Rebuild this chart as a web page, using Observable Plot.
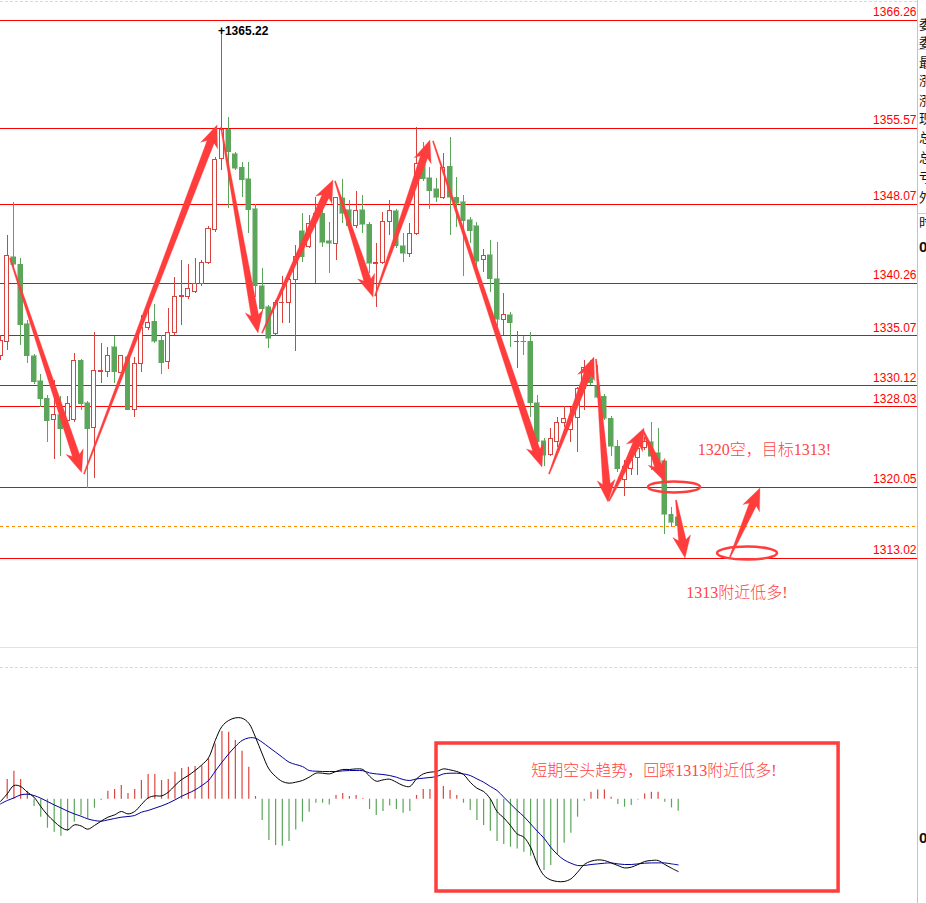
<!DOCTYPE html>
<html><head><meta charset="utf-8">
<script src="https://cdn.jsdelivr.net/npm/d3@7"></script>
<script src="https://cdn.jsdelivr.net/npm/@observablehq/plot@0.6"></script>
<style>
body{margin:0;background:#fff;overflow:hidden}
#wrap{position:relative;width:926px;height:903px;overflow:hidden;background:#fff}
#wrap svg{display:block}
.abs{position:absolute}
.side{position:absolute;left:919px;font:13px "Noto Sans CJK SC";color:#111;line-height:14px;white-space:nowrap}
</style></head><body><div id="wrap"></div><script>
// ---------- candle data (index 0..101) ----------
const opens = [1333.01,1334.49,1342.81,1342.11,1336.18,1333.01,1330.54,1328.85,1326.68,1327.17,
1326.58,1326.68,1332.61,1328.36,1325.89,1331.43,1331.43,1333.90,1331.33,1332.91,
1327.67,1332.22,1335.78,1336.47,1334.59,1332.42,1335.29,1338.85,1338.85,1339.44,
1340.14,1342.31,1345.48,1352.51,1355.47,1353.00,1351.71,1350.53,1347.56,1339.94,
1337.86,1335.19,1338.26,1338.35,1340.53,1345.38,1343.80,1346.37,1347.16,1344.39,
1344.19,1348.65,1347.46,1345.88,1347.46,1346.07,1342.21,1342.31,1346.27,1347.36,
1343.90,1343.20,1345.18,1352.31,1350.63,1349.54,1348.74,1351.81,1348.74,1348.25,
1346.47,1345.88,1342.51,1343.01,1340.63,1336.67,1337.07,1334.40,1334.49,1334.49,
1328.36,1324.60,1323.31,1324.50,1326.38,1325.69,1326.97,1329.75,1331.92,1330.04,
1329.05,1326.87,1324.10,1320.74,1321.83,1323.01,1323.91,1324.50,1323.41,1322.62,
1317.37,1317.08];
const highs = [1335.09,1344.98,1348.25,1342.71,1336.57,1333.21,1331.23,1329.15,1330.64,1329.05,
1329.05,1333.31,1332.71,1328.56,1335.39,1334.30,1333.90,1334.99,1333.11,1333.11,
1332.91,1337.07,1337.76,1338.16,1335.09,1337.76,1340.83,1342.51,1342.11,1342.71,
1342.51,1345.88,1352.70,1365.22,1356.66,1353.20,1352.21,1352.21,1348.05,1341.72,
1338.06,1338.55,1340.93,1341.22,1343.99,1347.16,1346.96,1348.74,1348.15,1346.27,
1348.74,1350.53,1348.45,1349.34,1348.94,1346.27,1344.19,1347.26,1348.45,1347.56,
1345.18,1346.17,1355.67,1354.19,1351.71,1350.63,1353.10,1354.68,1350.72,1348.94,
1346.77,1346.27,1343.60,1344.49,1344.29,1339.24,1337.36,1335.48,1334.99,1335.39,
1329.15,1324.90,1325.89,1326.97,1328.06,1327.96,1329.94,1332.61,1332.61,1332.12,
1329.25,1327.07,1324.70,1322.72,1323.41,1324.40,1324.99,1326.48,1325.89,1322.72,
1318.07,1317.77];
const lows = [1332.61,1333.60,1341.72,1334.10,1332.32,1330.24,1327.96,1324.50,1322.82,1323.11,
1326.38,1326.48,1327.67,1319.95,1320.94,1330.34,1330.93,1330.34,1330.64,1327.67,
1326.97,1331.43,1335.58,1334.30,1331.23,1331.72,1335.09,1336.08,1338.65,1339.24,
1339.94,1342.11,1345.28,1351.42,1347.66,1351.42,1348.74,1345.18,1338.85,1337.46,
1333.80,1334.99,1336.28,1336.28,1333.51,1342.31,1343.70,1340.23,1343.80,1341.22,
1342.51,1346.17,1345.68,1345.68,1345.18,1341.22,1337.86,1342.11,1344.98,1343.70,
1342.31,1342.81,1344.98,1350.33,1347.56,1348.25,1348.55,1344.98,1345.78,1340.93,
1344.19,1341.72,1341.32,1339.34,1335.98,1335.09,1333.90,1331.82,1333.11,1326.97,
1324.00,1322.12,1323.11,1324.00,1325.98,1324.50,1323.51,1327.67,1330.14,1328.85,
1326.68,1323.11,1321.53,1319.16,1321.23,1321.23,1323.71,1321.73,1321.43,1315.40,
1316.09,1315.79];
const closes = [1334.59,1342.91,1342.11,1336.08,1333.01,1330.44,1328.76,1326.58,1327.17,1325.79,
1328.26,1332.61,1328.26,1325.79,1331.53,1331.53,1333.01,1331.43,1333.01,1327.67,
1332.22,1335.78,1336.28,1334.49,1332.32,1335.29,1338.85,1338.95,1339.64,1340.14,
1342.31,1345.58,1352.41,1355.47,1353.20,1351.61,1350.43,1347.46,1339.94,1337.66,
1334.79,1338.35,1338.35,1340.53,1342.81,1342.81,1346.17,1347.16,1344.29,1344.19,
1348.65,1347.16,1345.88,1347.36,1346.07,1342.21,1342.31,1346.27,1347.36,1343.90,
1343.20,1345.18,1352.01,1350.53,1349.34,1348.74,1351.71,1348.74,1348.15,1346.37,
1345.38,1342.41,1342.91,1340.63,1336.67,1337.07,1336.28,1334.49,1334.40,1328.36,
1324.50,1323.21,1324.80,1326.38,1326.87,1326.68,1329.75,1331.92,1330.34,1328.95,
1326.87,1324.10,1321.83,1322.12,1322.72,1323.81,1324.50,1323.11,1321.73,1317.37,
1316.58,1316.19];

// ---------- horizontal levels ----------
const levels = [1366.26,1355.57,1348.07,1340.26,1335.07,1330.12,1328.03,1320.05,1313.02];
const currentPrice = 1316.19;
const peakIndex = 33, peakLabel = "+1365.22";

// ---------- MACD (histogram, DIF, DEA) ----------
const macdHist = [null,1.97,2.80,1.97,0.80,-0.73,-1.80,-2.90,-3.30,-3.70,
-3.20,-2.30,-1.63,-1.97,-0.90,-0.13,0.80,0.97,1.37,0.57,
0.97,1.87,2.47,2.47,1.87,1.97,2.70,3.07,3.20,3.27,
3.33,4.03,5.53,6.77,6.70,5.87,4.80,3.20,0.27,-2.13,
-4.13,-4.63,-4.70,-4.23,-3.07,-2.30,-1.30,-0.40,-0.40,-0.57,
0.37,0.57,0.27,0.37,0.07,-1.03,-1.63,-1.23,-0.67,-1.03,
-1.40,-1.23,0.37,0.97,0.97,1.10,1.27,0.87,0.37,-0.40,
-1.13,-2.13,-2.63,-3.20,-4.23,-4.53,-4.80,-4.97,-5.30,-5.70,
-6.63,-7.13,-6.63,-5.63,-4.40,-3.40,-1.80,-0.20,0.70,0.93,
0.93,0.20,-0.53,-0.80,-0.63,-0.07,0.53,0.70,0.70,-0.30,
-0.87,-1.20];
const macdDif = [-0.23,0.53,1.37,1.27,0.70,0.20,-0.73,-1.57,-2.23,-2.80,
-3.07,-2.57,-2.67,-3.00,-2.63,-2.20,-1.80,-1.57,-1.23,-1.47,
-1.23,-0.53,0.13,0.33,0.33,0.70,1.37,1.97,2.37,2.87,
3.43,4.13,5.87,7.27,7.87,8.13,8.10,7.60,6.20,4.53,
3.03,2.27,1.77,1.60,1.70,1.87,2.20,2.60,2.60,2.53,
2.77,2.97,2.97,3.03,2.97,2.30,1.80,1.93,2.00,1.70,
1.37,1.27,2.03,2.53,2.70,2.77,3.03,2.93,2.77,2.47,
1.70,1.10,0.77,0.03,-1.23,-1.87,-2.63,-3.47,-3.80,-4.80,
-6.47,-7.63,-8.07,-8.23,-8.23,-7.97,-7.30,-6.53,-6.20,-6.07,
-6.13,-6.37,-6.63,-6.87,-6.80,-6.53,-6.23,-6.13,-6.13,-6.53,
-6.90,-7.23];
const macdDea = [-0.47,-0.13,0.13,0.43,0.50,0.37,0.10,-0.23,-0.57,-0.87,
-1.20,-1.47,-1.70,-1.97,-2.13,-2.20,-2.07,-1.93,-1.80,-1.73,
-1.63,-1.30,-1.13,-0.90,-0.67,-0.40,-0.07,0.30,0.60,0.93,
1.37,1.87,2.80,3.70,4.53,5.27,5.87,6.13,6.10,5.70,
5.20,4.70,4.20,3.70,3.47,3.27,2.87,2.80,2.77,2.77,
2.77,2.83,2.87,2.87,2.85,2.63,2.53,2.47,2.37,2.20,
1.97,1.87,2.03,2.10,2.17,2.27,2.53,2.60,2.60,2.53,
2.37,2.03,1.70,1.27,0.87,0.20,-0.47,-1.13,-1.73,-2.47,
-3.20,-3.90,-4.80,-5.53,-6.07,-6.40,-6.63,-6.63,-6.53,-6.47,
-6.40,-6.37,-6.47,-6.53,-6.53,-6.47,-6.40,-6.37,-6.37,-6.37,
-6.47,-6.57];

// ---------- hand-drawn annotations (index, price) ----------
const arrowX1 = [1.49,12.52,32.94,39.05,49.93,55.89,64.53,81.82,88.82,90.76,95.83,100.75,108.79];
const arrowY1 = [1342.71,1321.33,1355.67,1335.29,1350.33,1338.95,1354.29,1321.33,1332.71,1318.66,1325.69,1318.76,1313.12];
const arrowX2 = [12.17,32.34,38.45,49.63,55.59,64.08,80.77,88.52,90.61,95.98,99.11,102.09,113.26];
const arrowY2 = [1321.48,1355.87,1335.29,1350.43,1338.85,1354.38,1322.03,1332.91,1318.56,1325.88,1320.54,1313.02,1319.95];
const ellipseX = [100.45,111.33];
const ellipseY = [1320.05,1313.51];
const noteTexts = ["1320空，目标1313!","1313附近低多!"];
const noteX = [103.9,102.2];
const noteY = [1323.81,1309.66];
const boxNote = "短期空头趋势，回踩1313附近低多!";
const boxX = [64.98,124.9], boxY = [5.57,-9.23];
const boxTextX = 79.1, boxTextY = 2.87;

// ---------- build tables ----------
const candles = opens.map((o,i)=>({i, o, h: highs[i], l: lows[i], c: closes[i], up: closes[i] >= o}));
const macd = macdDif.map((d,i)=>({i, hist: macdHist[i], dif: d, dea: macdDea[i]}));
const arrows = arrowX1.map((x,i)=>({x1:x, y1:arrowY1[i], x2:arrowX2[i], y2:arrowY2[i]}));
const ellipses = ellipseX.map((x,i)=>({x, y: ellipseY[i]}));
const notes = noteTexts.map((t,i)=>({t, x: noteX[i], y: noteY[i]}));

const RED = "#d8433d", GREEN = "#5ba65b", ARROW = "#ff3d3d";
const xDomain = [0, 136.66];
const serif = "'Liberation Serif','Noto Sans CJK SC',serif";

function arrowMark(data) {
  return Plot.dot(data, {x: "x1", y: "y1", r: 0, render(index, scales) {
    const g = d3.create("svg:g");
    for (const i of index) {
      const d = data[i];
      const ax = scales.x(d.x1), ay = scales.y(d.y1), bx = scales.x(d.x2), by = scales.y(d.y2);
      const dx = bx-ax, dy = by-ay, L = Math.hypot(dx,dy);
      const ux = dx/L, uy = dy/L, nx = -uy, ny = ux;
      const h = Math.min(18, L*0.4), hw = 9, w0 = 0.6, w1 = 3.8;
      const cx = bx-ux*h, cy = by-uy*h;
      const pts = [[ax+nx*w0, ay+ny*w0],[cx+nx*w1, cy+ny*w1],[cx+nx*hw-ux*4, cy+ny*hw-uy*4],[bx,by],
                   [cx-nx*hw-ux*4, cy-ny*hw-uy*4],[cx-nx*w1, cy-ny*w1],[ax-nx*w0, ay-ny*w0]];
      g.append("path").attr("d","M"+pts.map(p=>p[0].toFixed(2)+","+p[1].toFixed(2)).join("L")+"Z")
        .attr("fill", ARROW).attr("stroke", ARROW).attr("stroke-width", 0.6).attr("stroke-opacity", 0.5);
    }
    return g.node();
  }});
}
function ellipseMark(data) {
  return Plot.dot(data, {x: "x", y: "y", r: 0, render(index, scales) {
    const g = d3.create("svg:g");
    for (const i of index) {
      g.append("ellipse").attr("cx", scales.x(data[i].x)).attr("cy", scales.y(data[i].y))
        .attr("rx", i === 0 ? 26 : 30).attr("ry", i === 0 ? 5.5 : 6.5)
        .attr("fill","none").attr("stroke", ARROW).attr("stroke-width", 2.5);
    }
    return g.node();
  }});
}

const main = Plot.plot({
  width: 926, height: 647,
  marginLeft: 0, marginRight: 9, marginTop: 0, marginBottom: 0,
  style: {background: "#fff", overflow: "visible"},
  x: {domain: xDomain, axis: null},
  y: {domain: [1304.21, 1368.24], axis: null},
  marks: [
    Plot.ruleY(levels, {stroke: "#ff0000", strokeWidth: 1, shapeRendering: "crispEdges"}),
    Plot.ruleY([currentPrice], {stroke: "#ff8c00", strokeDasharray: "3,3", shapeRendering: "crispEdges"}),
    Plot.ruleX(candles, {x: "i", y1: "l", y2: "h", stroke: d => d.up ? RED : GREEN, strokeWidth: 1, shapeRendering: "crispEdges"}),
    Plot.rect(candles.filter(d=>d.up), {x1: d=>d.i-0.3, x2: d=>d.i+0.3, y1: "o", y2: "c", fill: "#fff", stroke: RED, strokeWidth: 1, shapeRendering: "crispEdges"}),
    Plot.rect(candles.filter(d=>!d.up), {x1: d=>d.i-0.37, x2: d=>d.i+0.37, y1: "o", y2: "c", fill: GREEN, stroke: GREEN, strokeWidth: 0.5, shapeRendering: "crispEdges"}),
    Plot.text(levels, {x: xDomain[1], y: d=>d, text: d=>d.toFixed(2), textAnchor: "end", dx: -1, dy: -8,
      fill: "#ff0000", fontSize: 12, fontFamily: "'Liberation Sans',Arial,sans-serif"}),
    Plot.text([peakIndex], {x: d=>d, y: d=>highs[d], text: [peakLabel], textAnchor: "start", dx: -4, dy: 0,
      fill: "#000", fontSize: 12, fontWeight: "bold", fontFamily: "'Liberation Sans',Arial,sans-serif"}),
    arrowMark(arrows),
    ellipseMark(ellipses),
    Plot.text(notes, {x: "x", y: "y", text: "t", textAnchor: "start", fill: "#ff4545", fontSize: 16, fontWeight: 300, fontFamily: serif})
  ]
});

const sub = Plot.plot({
  width: 926, height: 255,
  marginLeft: 0, marginRight: 9, marginTop: 0, marginBottom: 0,
  style: {background: "#fff", overflow: "visible"},
  x: {domain: xDomain, axis: null},
  y: {domain: [-10.43, 15.07], axis: null},
  marks: [
    Plot.ruleX(macd.filter(d=>d.hist != null), {x: "i", y1: 0, y2: "hist", stroke: d => d.hist >= 0 ? "#e0443e" : GREEN, strokeWidth: 1.2}),
    Plot.line(macd, {x: "i", y: "dea", stroke: "#0000a0", strokeWidth: 1, curve: "catmull-rom"}),
    Plot.line(macd, {x: "i", y: "dif", stroke: "#000", strokeWidth: 1, curve: "catmull-rom"}),
    Plot.rect([{x1: boxX[0], x2: boxX[1], y1: boxY[0], y2: boxY[1]}], {x1: "x1", x2: "x2", y1: "y1", y2: "y2", fill: "none", stroke: ARROW, strokeWidth: 3.5}),
    Plot.text([boxNote], {x: boxTextX, y: boxTextY, text: d=>d, textAnchor: "start", fill: "#ff4545", fontSize: 16, fontWeight: 300, fontFamily: serif})
  ]
});

const wrap = document.getElementById("wrap");
wrap.appendChild(main);
const sep = document.createElement("div");
sep.className = "abs"; sep.style.cssText = "left:0;top:647px;width:917px;height:1px;background:#e2e2e2";
const subHolder = document.createElement("div");
subHolder.className = "abs"; subHolder.style.cssText = "left:0;top:648px";
subHolder.appendChild(sub);
wrap.appendChild(subHolder);
wrap.appendChild(sep);
// chrome: dashed separators, right border, sidebar
const add = css => { const e = document.createElement("div"); e.className = "abs"; e.style.cssText = css; wrap.appendChild(e); return e; };
add("left:0;top:1px;width:917px;height:0;border-top:1px dashed #d9d9d9");
add("left:0;top:667px;width:917px;height:0;border-top:1px dashed #d9d9d9");
add("left:917px;top:0;width:1px;height:903px;background:#c4c4c4");
add("left:918px;top:49px;width:8px;height:1px;background:#d0d0d0");
add("left:918px;top:213px;width:8px;height:1px;background:#d0d0d0");
const sideChars = ["委","委","最","涨","涨","现","总","总","亏","外","时"];
const sideTops = [17,35,55,73,93,111,130,150,170,190,215];
sideChars.forEach((ch,k)=>{ const e = add(""); e.className = "side"; e.style.top = sideTops[k]+"px"; e.textContent = ch; });
const z1 = add(""); z1.className = "side"; z1.style.cssText += "top:238px;font:bold 15px 'Liberation Sans',Arial"; z1.textContent = "0";
const z2 = add(""); z2.className = "side"; z2.style.cssText += "top:829px;font:bold 15px 'Liberation Sans',Arial"; z2.textContent = "0";
</script></body></html>
